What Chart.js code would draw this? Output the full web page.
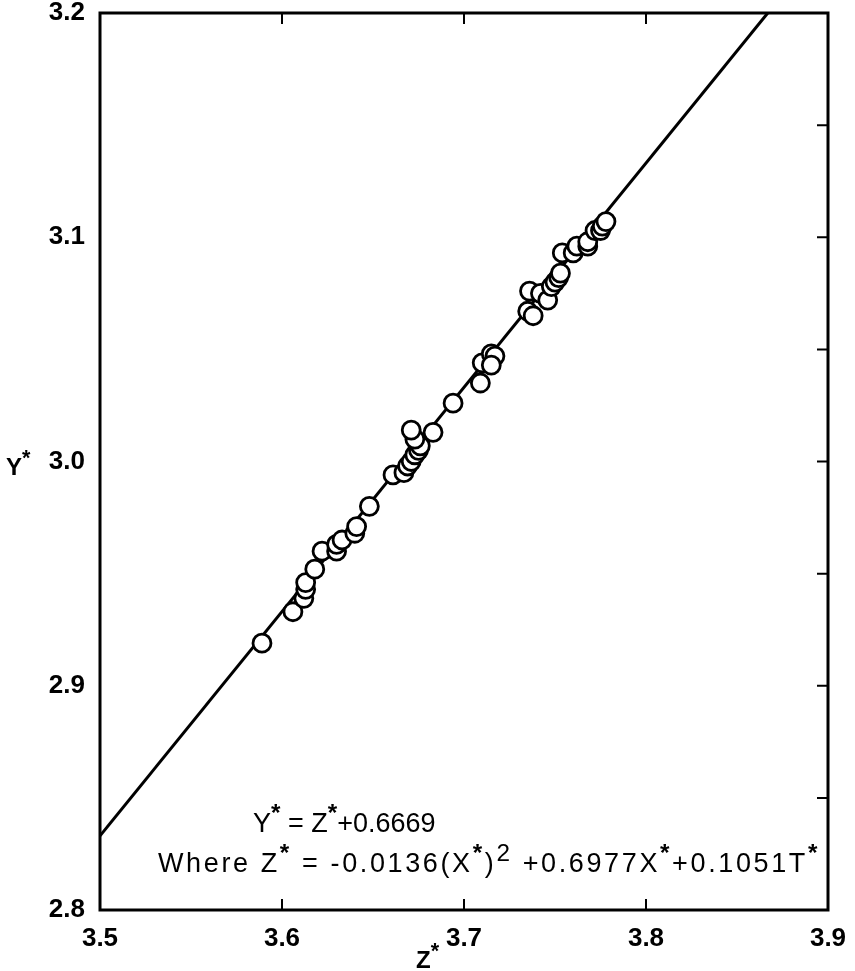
<!DOCTYPE html>
<html>
<head>
<meta charset="utf-8">
<script src="https://cdn.jsdelivr.net/npm/chart.js@4.4.1/dist/chart.umd.min.js"></script>
<style>
  html, body { margin: 0; background: #fff; }
</style>
</head>
<body>
<canvas id="chart" width="855" height="971"></canvas>
<script>
'use strict';

// observed points (Z*, Y*)
const zValues = [
    3.589, 3.606, 3.612, 3.613, 3.613, 3.618, 3.622, 3.630, 3.630, 3.633,
    3.640, 3.641, 3.648, 3.661, 3.667, 3.669, 3.671, 3.673, 3.675, 3.676,
    3.673, 3.671, 3.683, 3.694, 3.709, 3.710, 3.715, 3.717, 3.715, 3.735,
    3.738, 3.736, 3.742, 3.746, 3.748, 3.750, 3.752, 3.753, 3.754, 3.760,
    3.762, 3.768, 3.768, 3.772, 3.775, 3.776, 3.778
];
const yValues = [
    2.919, 2.933, 2.939, 2.943, 2.946, 2.952, 2.960, 2.960, 2.963, 2.965,
    2.968, 2.971, 2.980, 2.994, 2.995, 2.998, 3.000, 3.003, 3.005, 3.007,
    3.010, 3.014, 3.013, 3.026, 3.035, 3.044, 3.048, 3.047, 3.043, 3.067,
    3.065, 3.076, 3.075, 3.072, 3.078, 3.080, 3.082, 3.084, 3.093, 3.093,
    3.096, 3.096, 3.098, 3.103, 3.103, 3.105, 3.107
];

// fitted line Y* = Z* + intercept, drawn from the left edge to where it leaves the top
const fitIntercept = -0.6669;
const fitZ = [3.5, 3.8669];

const xTickLabels = [3.5, 3.6, 3.7, 3.8, 3.9];
const yTickLabels = [2.8, 2.9, 3.0, 3.1, 3.2];
const xInnerTicks = [3.6, 3.7, 3.8];
const yInnerTicks = [2.85, 2.9, 2.95, 3.0, 3.05, 3.1, 3.15];

const FONT = '"Liberation Sans", Arial, sans-serif';

// [text, raised, bold]
const eqLine1 = [
    ['Y', false], ['*', true, true], [' = Z', false], ['*', true, true], ['+0.6669', false]
];
const eqLine2 = [
    ['Where Z', false], ['*', true, true], [' = -0.0136(X', false], ['*', true, true],
    [')', false], ['2', true], [' +0.6977X', false], ['*', true, true],
    ['+0.1051T', false], ['*', true, true]
];

function setFont(ctx, part, size, weight) {
    const [, sup, bold] = part;
    const w = bold ? 'bold' : weight;
    ctx.font = w + ' ' + (sup ? size * 0.9 : size) + 'px ' + FONT;
}

function richWidth(ctx, parts, size, weight) {
    let w = 0;
    parts.forEach((p) => {
        setFont(ctx, p, size, weight);
        w += ctx.measureText(p[0]).width;
    });
    return w;
}

// text with raised pieces (asterisks, the square); optionally spread to a width
function drawRich(ctx, parts, x, y, size, weight, width) {
    let spacing = 0;
    if (width) {
        ctx.letterSpacing = '0px';
        const chars = parts.reduce((n, [txt]) => n + txt.length, 0);
        spacing = (width - richWidth(ctx, parts, size, weight)) / chars;
    }
    ctx.letterSpacing = spacing + 'px';
    let cx = x;
    parts.forEach((p) => {
        setFont(ctx, p, size, weight);
        ctx.fillText(p[0], cx, p[1] ? y - size * 0.42 : y);
        cx += ctx.measureText(p[0]).width;
    });
    ctx.letterSpacing = '0px';
}

const framePlugin = {
    id: 'frame',
    afterDraw(chart) {
        const { ctx, chartArea: a, scales } = chart;
        const xs = scales.x;
        const ys = scales.y;
        ctx.save();
        ctx.strokeStyle = '#000';
        ctx.lineWidth = 3;
        ctx.strokeRect(a.left, a.top, a.right - a.left, a.bottom - a.top);

        // inward ticks: bottom and top on Z*, right side on Y*
        ctx.lineWidth = 2;
        ctx.beginPath();
        xInnerTicks.forEach((v) => {
            const px = xs.getPixelForValue(v);
            ctx.moveTo(px, a.bottom);
            ctx.lineTo(px, a.bottom - 11);
            ctx.moveTo(px, a.top);
            ctx.lineTo(px, a.top + 11);
        });
        yInnerTicks.forEach((v) => {
            const py = ys.getPixelForValue(v);
            ctx.moveTo(a.right, py);
            ctx.lineTo(a.right - 11, py);
        });
        ctx.stroke();

        ctx.fillStyle = '#000';
        ctx.textBaseline = 'alphabetic';
        ctx.textAlign = 'left';

        // axis titles
        drawRich(ctx, [['Y', false, true], ['*', true, true]], 6, 475, 24, 'bold');
        drawRich(ctx, [['Z', false, true], ['*', true, true]], 416, 968, 24, 'bold');

        // equation
        drawRich(ctx, eqLine1, 253, 832, 27, 'normal');
        drawRich(ctx, eqLine2, 158, 872, 27, 'normal', 662);
        ctx.restore();
    }
};

new Chart(document.getElementById('chart'), {
    type: 'scatter',
    data: {
        datasets: [
            {
                label: 'Observed',
                data: zValues.map((z, i) => ({ x: z, y: yValues[i] })),
                pointRadius: 9,
                pointBorderWidth: 2.8,
                pointBorderColor: '#000',
                pointBackgroundColor: '#fff',
                order: 1,
            },
            {
                type: 'line',
                label: 'Fit',
                data: fitZ.map((z) => ({ x: z, y: z + fitIntercept })),
                borderColor: '#000',
                borderWidth: 3,
                pointRadius: 0,
                fill: false,
                order: 2,
            },
        ],
    },
    options: {
        responsive: false,
        animation: false,
        layout: { padding: { top: 13, right: 27, left: 0, bottom: 0 } },
        plugins: {
            legend: { display: false },
            tooltip: { enabled: false },
        },
        scales: {
            x: {
                type: 'linear',
                min: 3.5,
                max: 3.9,
                grid: { display: false },
                border: { display: false },
                afterBuildTicks: (scale) => {
                    scale.ticks = xTickLabels.map((v) => ({ value: v }));
                },
                afterFit: (scale) => {
                    scale.height = 61;
                    scale.paddingLeft = 0;
                    scale.paddingRight = 0;
                },
                ticks: {
                    padding: 5,
                    color: '#000',
                    font: { family: FONT, size: 26, weight: 'bold' },
                    callback: (v) => Number(v).toFixed(1),
                },
            },
            y: {
                type: 'linear',
                min: 2.8,
                max: 3.2,
                grid: { display: false },
                border: { display: false },
                afterBuildTicks: (scale) => {
                    scale.ticks = yTickLabels.map((v) => ({ value: v }));
                },
                afterFit: (scale) => {
                    scale.width = 100;
                    scale.paddingTop = 0;
                    scale.paddingBottom = 0;
                },
                ticks: {
                    padding: 7,
                    color: '#000',
                    font: { family: FONT, size: 26, weight: 'bold' },
                    callback: (v) => Number(v).toFixed(1),
                },
            },
        },
    },
    plugins: [framePlugin],
});
</script>
</body>
</html>
